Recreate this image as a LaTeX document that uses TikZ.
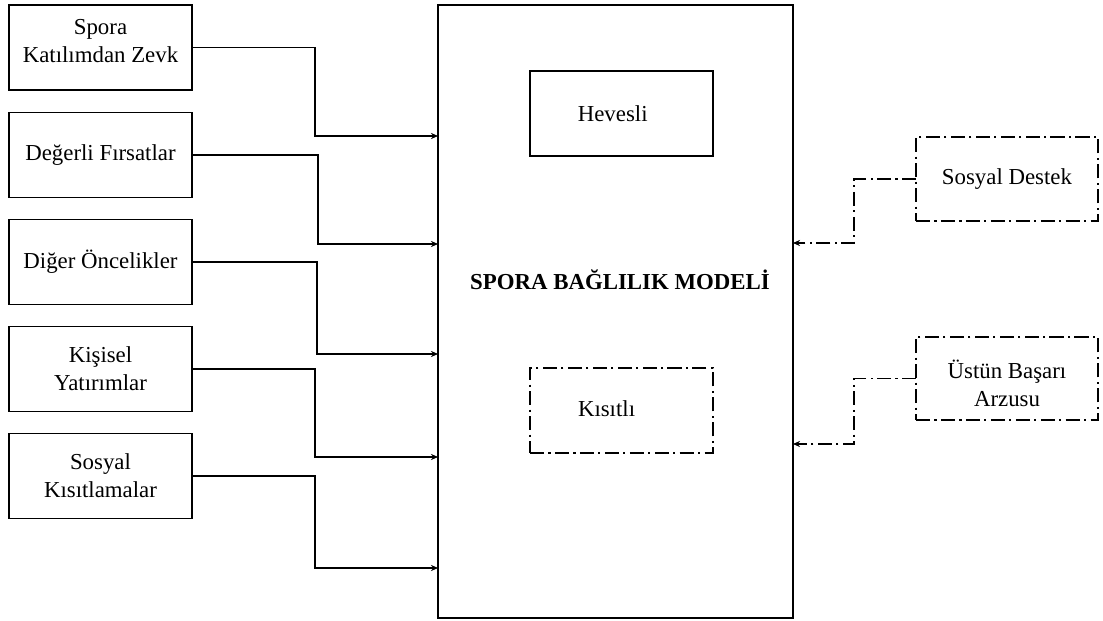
\documentclass[tikz,border=0pt]{standalone}
\usepackage{fontspec}
\setmainfont{Liberation Serif}
\usetikzlibrary{arrows.meta}
\tikzset{
  box/.style={draw, line width=0.8pt, inner sep=0pt, outer sep=0pt, align=center,
    minimum width=3.66cm, minimum height=1.7cm, font=\fontsize{13}{16}\selectfont},
  dbox/.style={box, dash pattern=on 8pt off 2.5pt on 1.2pt off 2.5pt},
  conn/.style={line width=0.7pt, -{Stealth[length=4pt,width=3.5pt]}},
  dconn/.style={conn, dash pattern=on 8pt off 2.5pt on 1.2pt off 2.5pt},
}
\begin{document}
\begin{tikzpicture}[x=0.02cm,y=-0.02cm]
\useasboundingbox (0,0) rectangle (1103,621);
% big box
\node[draw, line width=0.8pt, inner sep=0pt, outer sep=0pt, minimum width=7.1cm, minimum height=12.26cm] (big) at (615.5,311.5) {};
\node[font=\fontsize{13}{16}\selectfont\bfseries] (title) at (620,280) {SPORA BAĞLILIK MODELİ};
\node[box] (hev) at (621.5,113.5) {\hspace*{-10pt}Hevesli};
\node[dbox] (kis) at (621.5,410.5) {\hspace*{-17pt}\raisebox{1pt}[\height][\depth]{Kısıtlı}};
% left boxes
\node[box] (b1) at (100.5,47.5) {\raisebox{2.4pt}[\height][\depth]{\begin{tabular}{@{}c@{}}Spora\\Katılımdan Zevk\end{tabular}}};
\node[box] (b2) at (100.5,155) {Değerli Fırsatlar};
\node[box] (b3) at (100.5,262) {Diğer Öncelikler};
\node[box] (b4) at (100.5,369) {Kişisel\\Yatırımlar};
\node[box] (b5) at (100.5,476) {Sosyal\\Kısıtlamalar};
% right boxes
\node[dbox, minimum width=3.64cm, minimum height=1.68cm] (sd) at (1007,179) {Sosyal Destek};
\node[dbox, minimum width=3.64cm, minimum height=1.66cm] (ub) at (1007,378.5) {\raisebox{-5pt}[\height][\depth]{\begin{tabular}{@{}c@{}}Üstün Başarı\\Arzusu\end{tabular}}};
% entry points on big box
\coordinate (i1) at (438,136);
\coordinate (i2) at (438,244);
\coordinate (i3) at (438,354);
\coordinate (i4) at (438,457);
\coordinate (i5) at (438,568);
\coordinate (r1) at (793,243);
\coordinate (r2) at (793,444);
% connectors
\draw[conn] (b1.east) -- (315,47.5) |- (i1);
\draw[conn] (b2.east) -- (318,155) |- (i2);
\draw[conn] (b3.east) -- (317,262) |- (i3);
\draw[conn] (b4.east) -- (315,369) |- (i4);
\draw[conn] (b5.east) -- (315,476) |- (i5);
\draw[dconn] (sd.west) -- (854,179) |- (r1);
\draw[dconn] (ub.west) -- (854,378.5) |- (r2);
\end{tikzpicture}
\end{document}
